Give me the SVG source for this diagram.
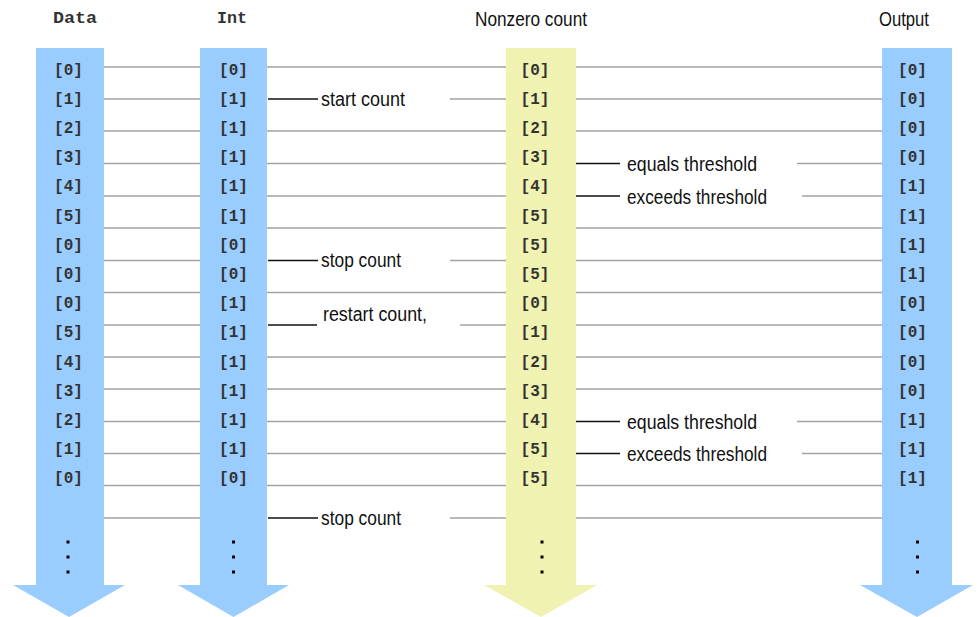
<svg xmlns="http://www.w3.org/2000/svg" width="978" height="617" viewBox="0 0 978 617">
<style>
.blue{fill:#99ccff}
.yel{fill:#eff2b0}
.cell{font-family:"Liberation Mono","DejaVu Sans Mono",monospace;font-size:16px;font-weight:bold;fill:#333;text-anchor:middle}
.hdm{font-family:"Liberation Mono","DejaVu Sans Mono",monospace;font-size:17px;font-weight:bold;fill:#333}
.lbl{font-family:"Liberation Sans Narrow","Liberation Sans",sans-serif;font-size:20px;fill:#111}
.g{stroke:#a3a3a3;stroke-width:1.6;fill:none}
.k{stroke:#111;stroke-width:1.6;fill:none}
.dot{fill:#000}
</style>
<rect width="978" height="617" fill="#fff"/>
<g id="connectors">
<path class="g" d="M104 67H200M104 99H200M104 131H200M104 163.5H200M104 196H200M104 228H200M104 260.5H200M104 292.5H200M104 325H200M104 357H200M104 389H200M104 421.5H200M104 453.5H200M104 485.5H200M104 518H200"/>
<path class="g" d="M267 67H506M450 99H506M267 131H506M267 163.5H506M267 196H506M267 228H506M450 260.5H506M267 292.5H506M460 325H506M267 357H506M267 389H506M267 421.5H506M267 453.5H506M267 485.5H506M450 518H506"/>
<path class="k" d="M268 99H318M268 260.5H318M268 325H317M268 518H318"/>
<path class="g" d="M576 67H882M576 99H882M576 131H882M797 163.5H882M802 196H882M576 228H882M576 260.5H882M576 292.5H882M576 325H882M576 357H882M576 389H882M797 421.5H882M802 453.5H882M576 485.5H882M576 518H882"/>
<path class="k" d="M576 163.5H620M576 196H620M576 421.5H620M576 453.5H620"/>
<text class="lbl" x="321" y="106" textLength="84" lengthAdjust="spacingAndGlyphs">start count</text>
<text class="lbl" x="321" y="267" textLength="80" lengthAdjust="spacingAndGlyphs">stop count</text>
<text class="lbl" x="323" y="321" textLength="104" lengthAdjust="spacingAndGlyphs">restart count,</text>
<text class="lbl" x="321" y="525" textLength="80" lengthAdjust="spacingAndGlyphs">stop count</text>
<text class="lbl" x="627" y="171" textLength="130" lengthAdjust="spacingAndGlyphs">equals threshold</text>
<text class="lbl" x="627" y="203.5" textLength="140" lengthAdjust="spacingAndGlyphs">exceeds threshold</text>
<text class="lbl" x="627" y="429" textLength="130" lengthAdjust="spacingAndGlyphs">equals threshold</text>
<text class="lbl" x="627" y="461" textLength="140" lengthAdjust="spacingAndGlyphs">exceeds threshold</text>
</g>
<g id="data">
<text class="hdm" x="53" y="22.5" textLength="44" lengthAdjust="spacingAndGlyphs">Data</text>
<polygon class="blue" points="36,48 104,48 104,585 125,585 69,617 13,585 36,585"/>
<g class="cell">
<text x="68.5" y="74.5">[0]</text><text x="68.5" y="103.7">[1]</text><text x="68.5" y="132.9">[2]</text><text x="68.5" y="162.1">[3]</text><text x="68.5" y="191.3">[4]</text><text x="68.5" y="220.5">[5]</text><text x="68.5" y="249.7">[0]</text><text x="68.5" y="278.9">[0]</text><text x="68.5" y="308.1">[0]</text><text x="68.5" y="337.3">[5]</text><text x="68.5" y="366.5">[4]</text><text x="68.5" y="395.7">[3]</text><text x="68.5" y="424.9">[2]</text><text x="68.5" y="454.1">[1]</text><text x="68.5" y="483.3">[0]</text>
</g>
<rect class="dot" x="66.5" y="540.5" width="3" height="3"/><rect class="dot" x="66.5" y="555.5" width="3" height="3"/><rect class="dot" x="66.5" y="570.5" width="3" height="3"/>
</g>
<g id="int">
<text class="hdm" x="217" y="22.5" textLength="30" lengthAdjust="spacingAndGlyphs">Int</text>
<polygon class="blue" points="200,48 267,48 267,585 289,585 233.5,617 178,585 200,585"/>
<g class="cell">
<text x="233.5" y="74.5">[0]</text><text x="233.5" y="103.7">[1]</text><text x="233.5" y="132.9">[1]</text><text x="233.5" y="162.1">[1]</text><text x="233.5" y="191.3">[1]</text><text x="233.5" y="220.5">[1]</text><text x="233.5" y="249.7">[0]</text><text x="233.5" y="278.9">[0]</text><text x="233.5" y="308.1">[1]</text><text x="233.5" y="337.3">[1]</text><text x="233.5" y="366.5">[1]</text><text x="233.5" y="395.7">[1]</text><text x="233.5" y="424.9">[1]</text><text x="233.5" y="454.1">[1]</text><text x="233.5" y="483.3">[0]</text>
</g>
<rect class="dot" x="232" y="540.5" width="3" height="3"/><rect class="dot" x="232" y="555.5" width="3" height="3"/><rect class="dot" x="232" y="570.5" width="3" height="3"/>
</g>
<g id="nonzero">
<text class="lbl" x="475" y="26" textLength="112" lengthAdjust="spacingAndGlyphs">Nonzero count</text>
<polygon class="yel" points="506,48 576,48 576,585 597,585 541,617 484,585 506,585"/>
<g class="cell">
<text x="535" y="74.5">[0]</text><text x="535" y="103.7">[1]</text><text x="535" y="132.9">[2]</text><text x="535" y="162.1">[3]</text><text x="535" y="191.3">[4]</text><text x="535" y="220.5">[5]</text><text x="535" y="249.7">[5]</text><text x="535" y="278.9">[5]</text><text x="535" y="308.1">[0]</text><text x="535" y="337.3">[1]</text><text x="535" y="366.5">[2]</text><text x="535" y="395.7">[3]</text><text x="535" y="424.9">[4]</text><text x="535" y="454.1">[5]</text><text x="535" y="483.3">[5]</text>
</g>
<rect class="dot" x="540.5" y="540.5" width="3" height="3"/><rect class="dot" x="540.5" y="555.5" width="3" height="3"/><rect class="dot" x="540.5" y="570.5" width="3" height="3"/>
</g>
<g id="output">
<text class="lbl" x="879" y="26" textLength="50" lengthAdjust="spacingAndGlyphs">Output</text>
<polygon class="blue" points="882,48 952,48 952,585 973,585 917,617 860,585 882,585"/>
<g class="cell">
<text x="912.5" y="74.5">[0]</text><text x="912.5" y="103.7">[0]</text><text x="912.5" y="132.9">[0]</text><text x="912.5" y="162.1">[0]</text><text x="912.5" y="191.3">[1]</text><text x="912.5" y="220.5">[1]</text><text x="912.5" y="249.7">[1]</text><text x="912.5" y="278.9">[1]</text><text x="912.5" y="308.1">[0]</text><text x="912.5" y="337.3">[0]</text><text x="912.5" y="366.5">[0]</text><text x="912.5" y="395.7">[0]</text><text x="912.5" y="424.9">[1]</text><text x="912.5" y="454.1">[1]</text><text x="912.5" y="483.3">[1]</text>
</g>
<rect class="dot" x="916" y="540.5" width="3" height="3"/><rect class="dot" x="916" y="555.5" width="3" height="3"/><rect class="dot" x="916" y="570.5" width="3" height="3"/>
</g>
</svg>
